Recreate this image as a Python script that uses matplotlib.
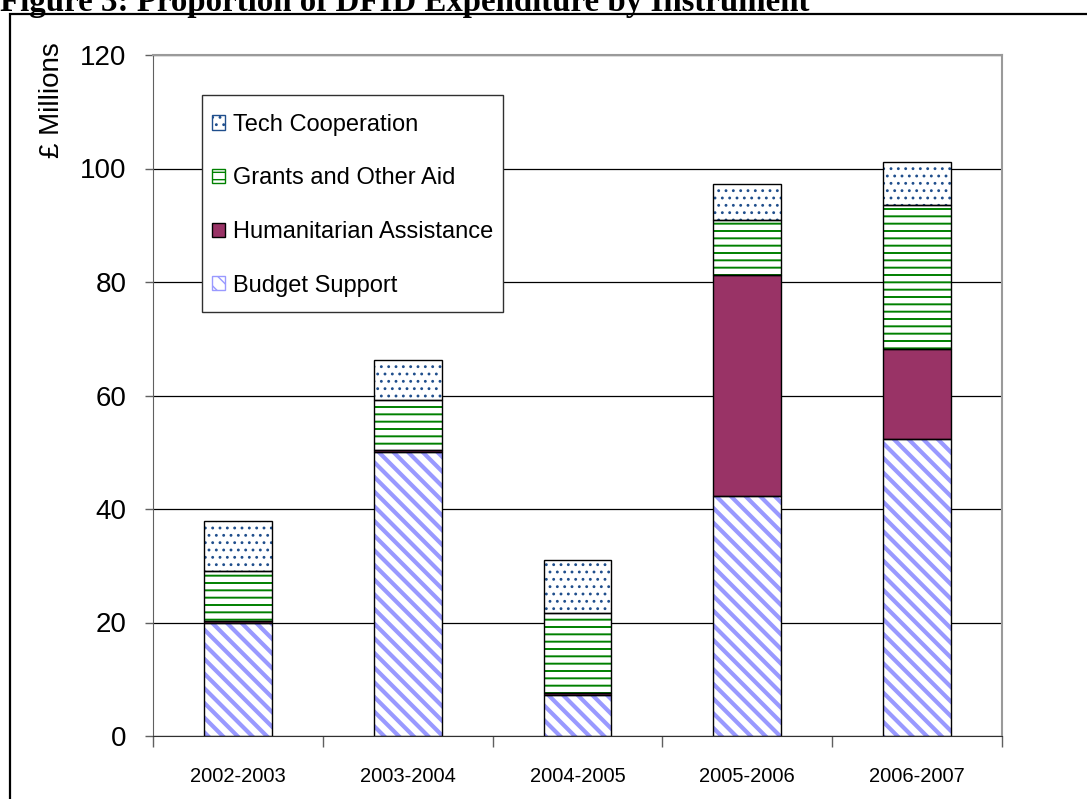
import matplotlib.pyplot as plt
import matplotlib.patches as mpatches
import numpy as np

# DFID expenditure by instrument, GBP millions
years = ["2002-2003", "2003-2004", "2004-2005", "2005-2006", "2006-2007"]
budget_support = [19.9, 50.1, 7.2, 42.3, 52.3]
humanitarian = [0.3, 0.3, 0.4, 38.9, 15.9]
grants_other = [8.8, 8.8, 14.0, 9.8, 25.4]
tech_coop = [8.9, 7.0, 9.4, 6.3, 7.5]

W, H = 1087, 799
DPI = 88  # hatch spacing is tied to dpi, so sizes below are given as if at 100 dpi
k = 100 / DPI


def pt(v):
    return v * k


# (label, values, face, hatch colour, hatch, hatch width)
series = [
    ("Budget Support", budget_support, "white", "#9999FF", "\\\\", pt(3.0)),
    ("Humanitarian Assistance", humanitarian, "#993366", "black", "", pt(1.0)),
    ("Grants and Other Aid", grants_other, "white", "#008000", "--", pt(1.4)),
    ("Tech Cooperation", tech_coop, "white", "#1F4E8C", "..", pt(1.0)),
]

fig = plt.figure(figsize=(W / DPI, H / DPI), dpi=DPI)
plt.rcParams["font.family"] = ["Liberation Sans", "DejaVu Sans"]

ax = fig.add_axes([153 / W, 1 - 736 / H, 849 / W, 681 / H])

x = np.arange(len(years))
width = 0.4
bottom = np.zeros(len(years))
handles = []
for label, vals, face, hcol, hatch, hlw in series:
    vals = np.array(vals)
    plt.rcParams["hatch.linewidth"] = hlw
    bars = ax.bar(x, vals, width, bottom=bottom, color=face, edgecolor=hcol,
                  hatch=hatch, linewidth=0, zorder=2)
    for p in bars:
        if hasattr(p, "set_hatch_linewidth"):
            p.set_hatch_linewidth(hlw)
    ax.bar(x, vals, width, bottom=bottom, fill=False, edgecolor="black",
           linewidth=pt(1.0), zorder=3)
    h = mpatches.Patch(facecolor=face, edgecolor=hcol, hatch=hatch, linewidth=pt(1.0))
    if hasattr(h, "set_hatch_linewidth"):
        h.set_hatch_linewidth(hlw)
    handles.append((h, label))
    bottom += vals

ax.set_xlim(-0.5, len(years) - 0.5)
ax.set_ylim(0, 120)
ax.set_yticks(np.arange(0, 121, 20))
ax.tick_params(axis="y", labelsize=pt(20), length=pt(6), width=pt(1), pad=pt(13),
               color="#606060")
ax.set_xticks(x)
ax.set_xticklabels(years)
ax.set_xticks(np.arange(-0.5, len(years), 1), minor=True)
ax.tick_params(axis="x", which="major", length=0, labelsize=pt(14.5), pad=pt(22))
ax.tick_params(axis="x", which="minor", length=pt(8), width=pt(1), color="#606060")

ax.set_axisbelow(True)
ax.yaxis.grid(True, color="black", linewidth=pt(0.9))
for side in ["top", "right"]:
    ax.spines[side].set_color("#9a9a9a")
    ax.spines[side].set_linewidth(pt(1.5))
ax.spines["left"].set_color("#606060")
ax.spines["bottom"].set_color("#303030")
ax.spines["left"].set_linewidth(pt(0.8))
ax.spines["bottom"].set_linewidth(pt(0.8))

fig.text(52 / W, 1 - 100 / H, "£ Millions", rotation=90, fontsize=pt(20),
         ha="center", va="center")

# legend box drawn separately so its padding can be set per side
fig.patches.append(mpatches.Rectangle((202 / W, 1 - 312 / H), 301 / W, 217 / H,
                                      transform=fig.transFigure, facecolor="white",
                                      edgecolor="#303030", linewidth=pt(1.0), zorder=4))
handles = handles[::-1]
leg = fig.legend([h for h, _ in handles], [l for _, l in handles],
                 loc="upper left", bbox_to_anchor=(212 / W, 1 - 113.8 / H),
                 fontsize=pt(17), frameon=False,
                 handlelength=0.55, handleheight=0.55, handletextpad=0.35,
                 labelspacing=1.34, borderpad=0, borderaxespad=0)
leg.set_zorder(5)

# outer frame and caption
fig.patches.append(mpatches.Rectangle((10 / W, -0.2), 1.2, 1.2 - 14 / H,
                                      transform=fig.transFigure, fill=False,
                                      edgecolor="black", linewidth=pt(1.6)))
fig.text(0, 1 - 11 / H, "Figure 3: Proportion of DFID Expenditure by Instrument",
         family=["Liberation Serif"], weight="bold", fontsize=pt(23.7),
         ha="left", va="baseline")

fig.savefig("out.png", dpi=DPI, facecolor="white")
